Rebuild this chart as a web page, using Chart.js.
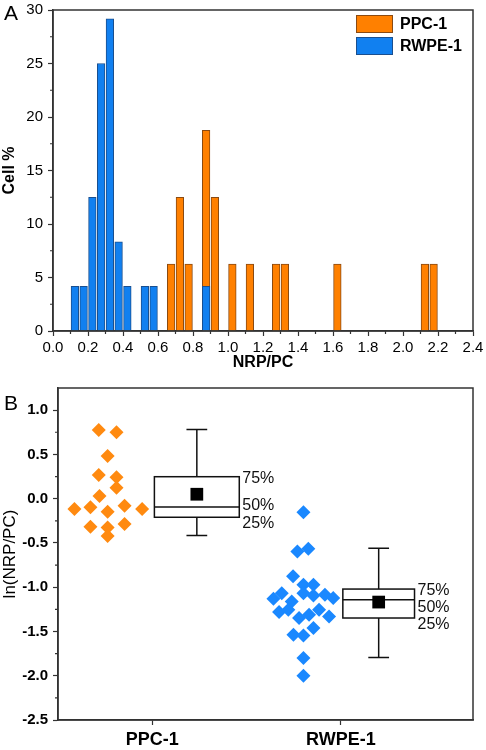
<!DOCTYPE html>
<html>
<head>
<meta charset="utf-8">
<script src="https://cdn.jsdelivr.net/npm/chart.js@4.4.1/dist/chart.umd.min.js"></script>
<style>
  html, body { margin: 0; padding: 0; background: #fff; }
  #wrap { position: relative; width: 486px; height: 750px; }
  canvas { position: absolute; left: 0; }
  #histA { top: 0; }
  #boxB { top: 375px; }
</style>
</head>
<body>
<div id="wrap">
  <canvas id="histA" width="486" height="375"></canvas>
  <canvas id="boxB" width="486" height="375"></canvas>
</div>
<script>
// Panel A - histogram of NRP/PC, bin width 0.05 (x = bin centre, y = cell %)
const ppcBins = [0.675, 0.725, 0.775, 0.875, 0.925, 1.025, 1.125, 1.275, 1.325, 1.625, 2.125, 2.175];
const ppcPercent = [6.25, 12.5, 6.25, 18.75, 12.5, 6.25, 6.25, 6.25, 6.25, 6.25, 6.25, 6.25];
const rwpeBins = [0.125, 0.175, 0.225, 0.275, 0.325, 0.375, 0.425, 0.525, 0.575, 0.875];
const rwpePercent = [4.17, 4.17, 12.5, 25, 29.17, 8.33, 4.17, 4.17, 4.17, 4.17];
const xTicksA = [0, 0.2, 0.4, 0.6, 0.8, 1.0, 1.2, 1.4, 1.6, 1.8, 2.0, 2.2, 2.4];

// Panel B - ln(NRP/PC) per cell, with the horizontal jitter offset of each diamond
const groups = ['PPC-1', 'RWPE-1'];
const ppcLn = [0.775, 0.749, 0.481, 0.267, 0.241, 0.124, 0.030, -0.116, -0.097, -0.147, -0.079, -0.116, -0.316, -0.327, -0.285, -0.421];
const ppcJitter = [-0.284, -0.190, -0.237, -0.284, -0.190, -0.190, -0.280, -0.413, -0.328, -0.237, -0.147, -0.054, -0.328, -0.237, -0.147, -0.237];
const rwpeLn = [-0.153, -0.598, -0.567, -0.875, -0.973, -0.973, -1.130, -1.067, -1.161, -1.067, -1.095, -1.086, -1.123,
  -1.280, -1.255, -1.348, -1.311, -1.255, -1.330, -1.537, -1.545, -1.461, -1.799, -2.000];
const rwpeJitter = [-0.199, -0.231, -0.173, -0.254, -0.199, -0.146, -0.358, -0.314, -0.261, -0.199, -0.146, -0.085, -0.041,
  -0.328, -0.279, -0.222, -0.169, -0.116, -0.063, -0.252, -0.199, -0.146, -0.199, -0.199];

// box statistics, one entry per group
const boxMin = [-0.417, -1.793];
const boxQ1 = [-0.210, -1.348];
const boxMedian = [-0.094, -1.142];
const boxQ3 = [0.248, -1.021];
const boxMax = [0.780, -0.559];
const boxMean = [0.050, -1.168];
const boxLabels = ['75%', '50%', '25%'];

// layout of the boxes (x position and half widths, in axis units)
const boxX = [1.236, 2.2];
const boxHalf = [0.225, 0.19];
const capHalf = 0.055;

const FONT = "'Liberation Sans', Arial, sans-serif";
const AXIS = '#333';
const ORANGE = '#FF8000';
const BLUE = '#1180F0';

const frame = {
  id: 'frame',
  afterDraw(chart) {
    const {ctx, chartArea: a} = chart;
    ctx.save();
    ctx.strokeStyle = AXIS;
    ctx.lineWidth = 1.5;
    ctx.strokeRect(a.left, a.top, a.right - a.left, a.bottom - a.top);
    ctx.restore();
  }
};

// short unlabeled ticks halfway between the labeled ones
function minorTicks(steps) {
  return {
    id: 'minorTicks',
    afterDraw(chart) {
      const ctx = chart.ctx;
      ctx.save();
      ctx.strokeStyle = AXIS;
      ctx.lineWidth = 1.2;
      ctx.beginPath();
      Object.keys(steps).forEach(id => {
        const s = chart.scales[id];
        const n = Math.round((s.max - s.min) / steps[id]);
        for (let i = 1; i < n; i += 2) {
          const p = s.getPixelForValue(s.min + i * steps[id]);
          if (s.isHorizontal()) {
            ctx.moveTo(p, s.top);
            ctx.lineTo(p, s.top + 3);
          } else {
            ctx.moveTo(s.right, p);
            ctx.lineTo(s.right - 3, p);
          }
        }
      });
      ctx.stroke();
      ctx.restore();
    }
  };
}

function panelLetter(letter, y) {
  return {
    id: 'panelLetter',
    afterDraw(chart) {
      const ctx = chart.ctx;
      ctx.save();
      ctx.font = '21px ' + FONT;
      ctx.fillStyle = '#000';
      ctx.textBaseline = 'middle';
      ctx.fillText(letter, 4, y);
      ctx.restore();
    }
  };
}

const legendA = {
  id: 'legendA',
  afterDraw(chart) {
    const ctx = chart.ctx;
    const a = chart.chartArea;
    const items = [[groups[0], ORANGE, '#8a4a12'], [groups[1], BLUE, '#1a4f8f']];
    ctx.save();
    ctx.font = 'bold 16px ' + FONT;
    ctx.textBaseline = 'middle';
    items.forEach((it, i) => {
      const x = a.right - 117, y = a.top + 5 + i * 22;
      ctx.fillStyle = it[1];
      ctx.fillRect(x, y, 37, 18);
      ctx.strokeStyle = it[2];
      ctx.lineWidth = 1;
      ctx.strokeRect(x + 0.5, y + 0.5, 36, 17);
      ctx.fillStyle = '#000';
      ctx.fillText(it[0], x + 44, y + 9.5);
    });
    ctx.restore();
  }
};

const boxPlot = {
  id: 'boxPlot',
  beforeDatasetsDraw(chart) {
    const ctx = chart.ctx;
    const xs = chart.scales.x, ys = chart.scales.y;
    ctx.save();
    ctx.strokeStyle = '#111';
    ctx.lineWidth = 1.5;
    groups.forEach((g, i) => {
      const cx = xs.getPixelForValue(boxX[i]);
      const hw = xs.getPixelForValue(boxX[i] + boxHalf[i]) - cx;
      const cw = xs.getPixelForValue(boxX[i] + capHalf) - cx;
      const yMin = ys.getPixelForValue(boxMin[i]);
      const yQ1 = ys.getPixelForValue(boxQ1[i]);
      const yMed = ys.getPixelForValue(boxMedian[i]);
      const yQ3 = ys.getPixelForValue(boxQ3[i]);
      const yMax = ys.getPixelForValue(boxMax[i]);
      ctx.beginPath();
      ctx.moveTo(cx, yMax); ctx.lineTo(cx, yQ3);
      ctx.moveTo(cx, yQ1); ctx.lineTo(cx, yMin);
      ctx.moveTo(cx - cw, yMax); ctx.lineTo(cx + cw, yMax);
      ctx.moveTo(cx - cw, yMin); ctx.lineTo(cx + cw, yMin);
      ctx.stroke();
      ctx.fillStyle = '#fff';
      ctx.fillRect(cx - hw, yQ3, 2 * hw, yQ1 - yQ3);
      ctx.strokeRect(cx - hw, yQ3, 2 * hw, yQ1 - yQ3);
      ctx.beginPath();
      ctx.moveTo(cx - hw, yMed); ctx.lineTo(cx + hw, yMed);
      ctx.stroke();

      // percentile labels, kept apart so they do not overlap
      const l75 = yQ3 + 2;
      const l50 = Math.max(yMed - 1, l75 + 17);
      const l25 = Math.max(yQ1 + 6, l50 + 17);
      ctx.font = '16px ' + FONT;
      ctx.fillStyle = '#111';
      ctx.textAlign = 'left';
      ctx.textBaseline = 'middle';
      [l75, l50, l25].forEach((ly, k) => ctx.fillText(boxLabels[k], cx + hw + 3, ly));
    });
    ctx.restore();
  }
};

const tickGrid = { drawOnChartArea: false, tickLength: 5, tickColor: AXIS, tickWidth: 1.2 };
const axisBorder = { color: AXIS, width: 1.5 };

new Chart(document.getElementById('histA'), {
  type: 'bar',
  data: {
    datasets: [
      {
        label: groups[0],
        data: ppcBins.map((x, i) => ({x: x, y: ppcPercent[i]})),
        backgroundColor: ORANGE, borderColor: '#8a4a12', borderWidth: 1, order: 1
      },
      {
        label: groups[1],
        data: rwpeBins.map((x, i) => ({x: x, y: rwpePercent[i]})),
        backgroundColor: BLUE, borderColor: '#1a4f8f', borderWidth: 1, order: 0
      }
    ]
  },
  options: {
    responsive: false,
    animation: false,
    events: [],
    layout: { padding: { top: 10, right: 13 } },
    datasets: { bar: { grouped: false, barThickness: 7.6 } },
    plugins: { legend: { display: false }, tooltip: { enabled: false } },
    scales: {
      x: {
        type: 'linear', min: 0, max: 2.4, offset: false,
        grid: Object.assign({ offset: false }, tickGrid),
        border: axisBorder,
        afterBuildTicks: s => { s.ticks = xTicksA.map(v => ({value: v})); },
        ticks: {
          autoSkip: false, maxRotation: 0, padding: 3, color: '#000',
          font: { family: FONT, size: 15 },
          callback: v => v.toFixed(1)
        },
        title: { display: true, text: 'NRP/PC', color: '#000', font: { family: FONT, size: 16, weight: 'bold' }, padding: { top: 0, bottom: 3 } },
        afterFit: s => { s.height = 44; s.paddingLeft = 0; s.paddingRight = 0; }
      },
      y: {
        min: 0, max: 30,
        grid: tickGrid,
        border: axisBorder,
        ticks: { stepSize: 5, padding: 5, color: '#000', font: { family: FONT, size: 15 } },
        title: { display: true, text: 'Cell %', color: '#000', font: { family: FONT, size: 16, weight: 'bold' }, padding: { top: 0, bottom: 0 } },
        afterFit: s => { s.width = 53; s.paddingTop = 0; s.paddingBottom = 0; }
      }
    }
  },
  plugins: [frame, minorTicks({x: 0.1, y: 2.5}), legendA, panelLetter('A', 14)]
});

new Chart(document.getElementById('boxB'), {
  type: 'scatter',
  data: {
    datasets: [
      {
        label: groups[0],
        data: ppcLn.map((v, i) => ({x: 1 + ppcJitter[i], y: v})),
        backgroundColor: '#FF8A10', pointStyle: 'rectRot', pointRadius: 7, borderWidth: 0
      },
      {
        label: groups[1],
        data: rwpeLn.map((v, i) => ({x: 2 + rwpeJitter[i], y: v})),
        backgroundColor: '#1A88FF', pointStyle: 'rectRot', pointRadius: 7, borderWidth: 0
      },
      {
        label: 'Mean',
        data: boxMean.map((v, i) => ({x: boxX[i], y: v})),
        backgroundColor: '#000', pointStyle: 'rect', pointRadius: 9, borderWidth: 0
      }
    ]
  },
  options: {
    responsive: false,
    animation: false,
    events: [],
    layout: { padding: { top: 13, right: 13 } },
    plugins: { legend: { display: false }, tooltip: { enabled: false } },
    scales: {
      x: {
        type: 'linear', min: 0.5, max: 2.7,
        grid: tickGrid,
        border: axisBorder,
        afterBuildTicks: s => { s.ticks = groups.map((g, i) => ({value: i + 1})); },
        ticks: {
          autoSkip: false, maxRotation: 0, padding: 4, color: '#000',
          font: { family: FONT, size: 18, weight: 'bold' },
          callback: (v, i) => groups[i]
        },
        afterFit: s => { s.height = 30; s.paddingLeft = 0; s.paddingRight = 0; }
      },
      y: {
        min: -2.5, max: 1.25,
        grid: tickGrid,
        border: axisBorder,
        ticks: {
          stepSize: 0.5, includeBounds: false, padding: 5, color: '#000',
          font: { family: FONT, size: 15, weight: 'bold' },
          callback: v => v.toFixed(1)
        },
        title: { display: true, text: 'ln(NRP/PC)', color: '#000', font: { family: FONT, size: 17 }, padding: { top: 0, bottom: 0 } },
        afterFit: s => { s.width = 58; s.paddingTop = 0; s.paddingBottom = 0; }
      }
    }
  },
  plugins: [boxPlot, frame, minorTicks({y: 0.25}), panelLetter('B', 29)]
});
</script>
</body>
</html>
